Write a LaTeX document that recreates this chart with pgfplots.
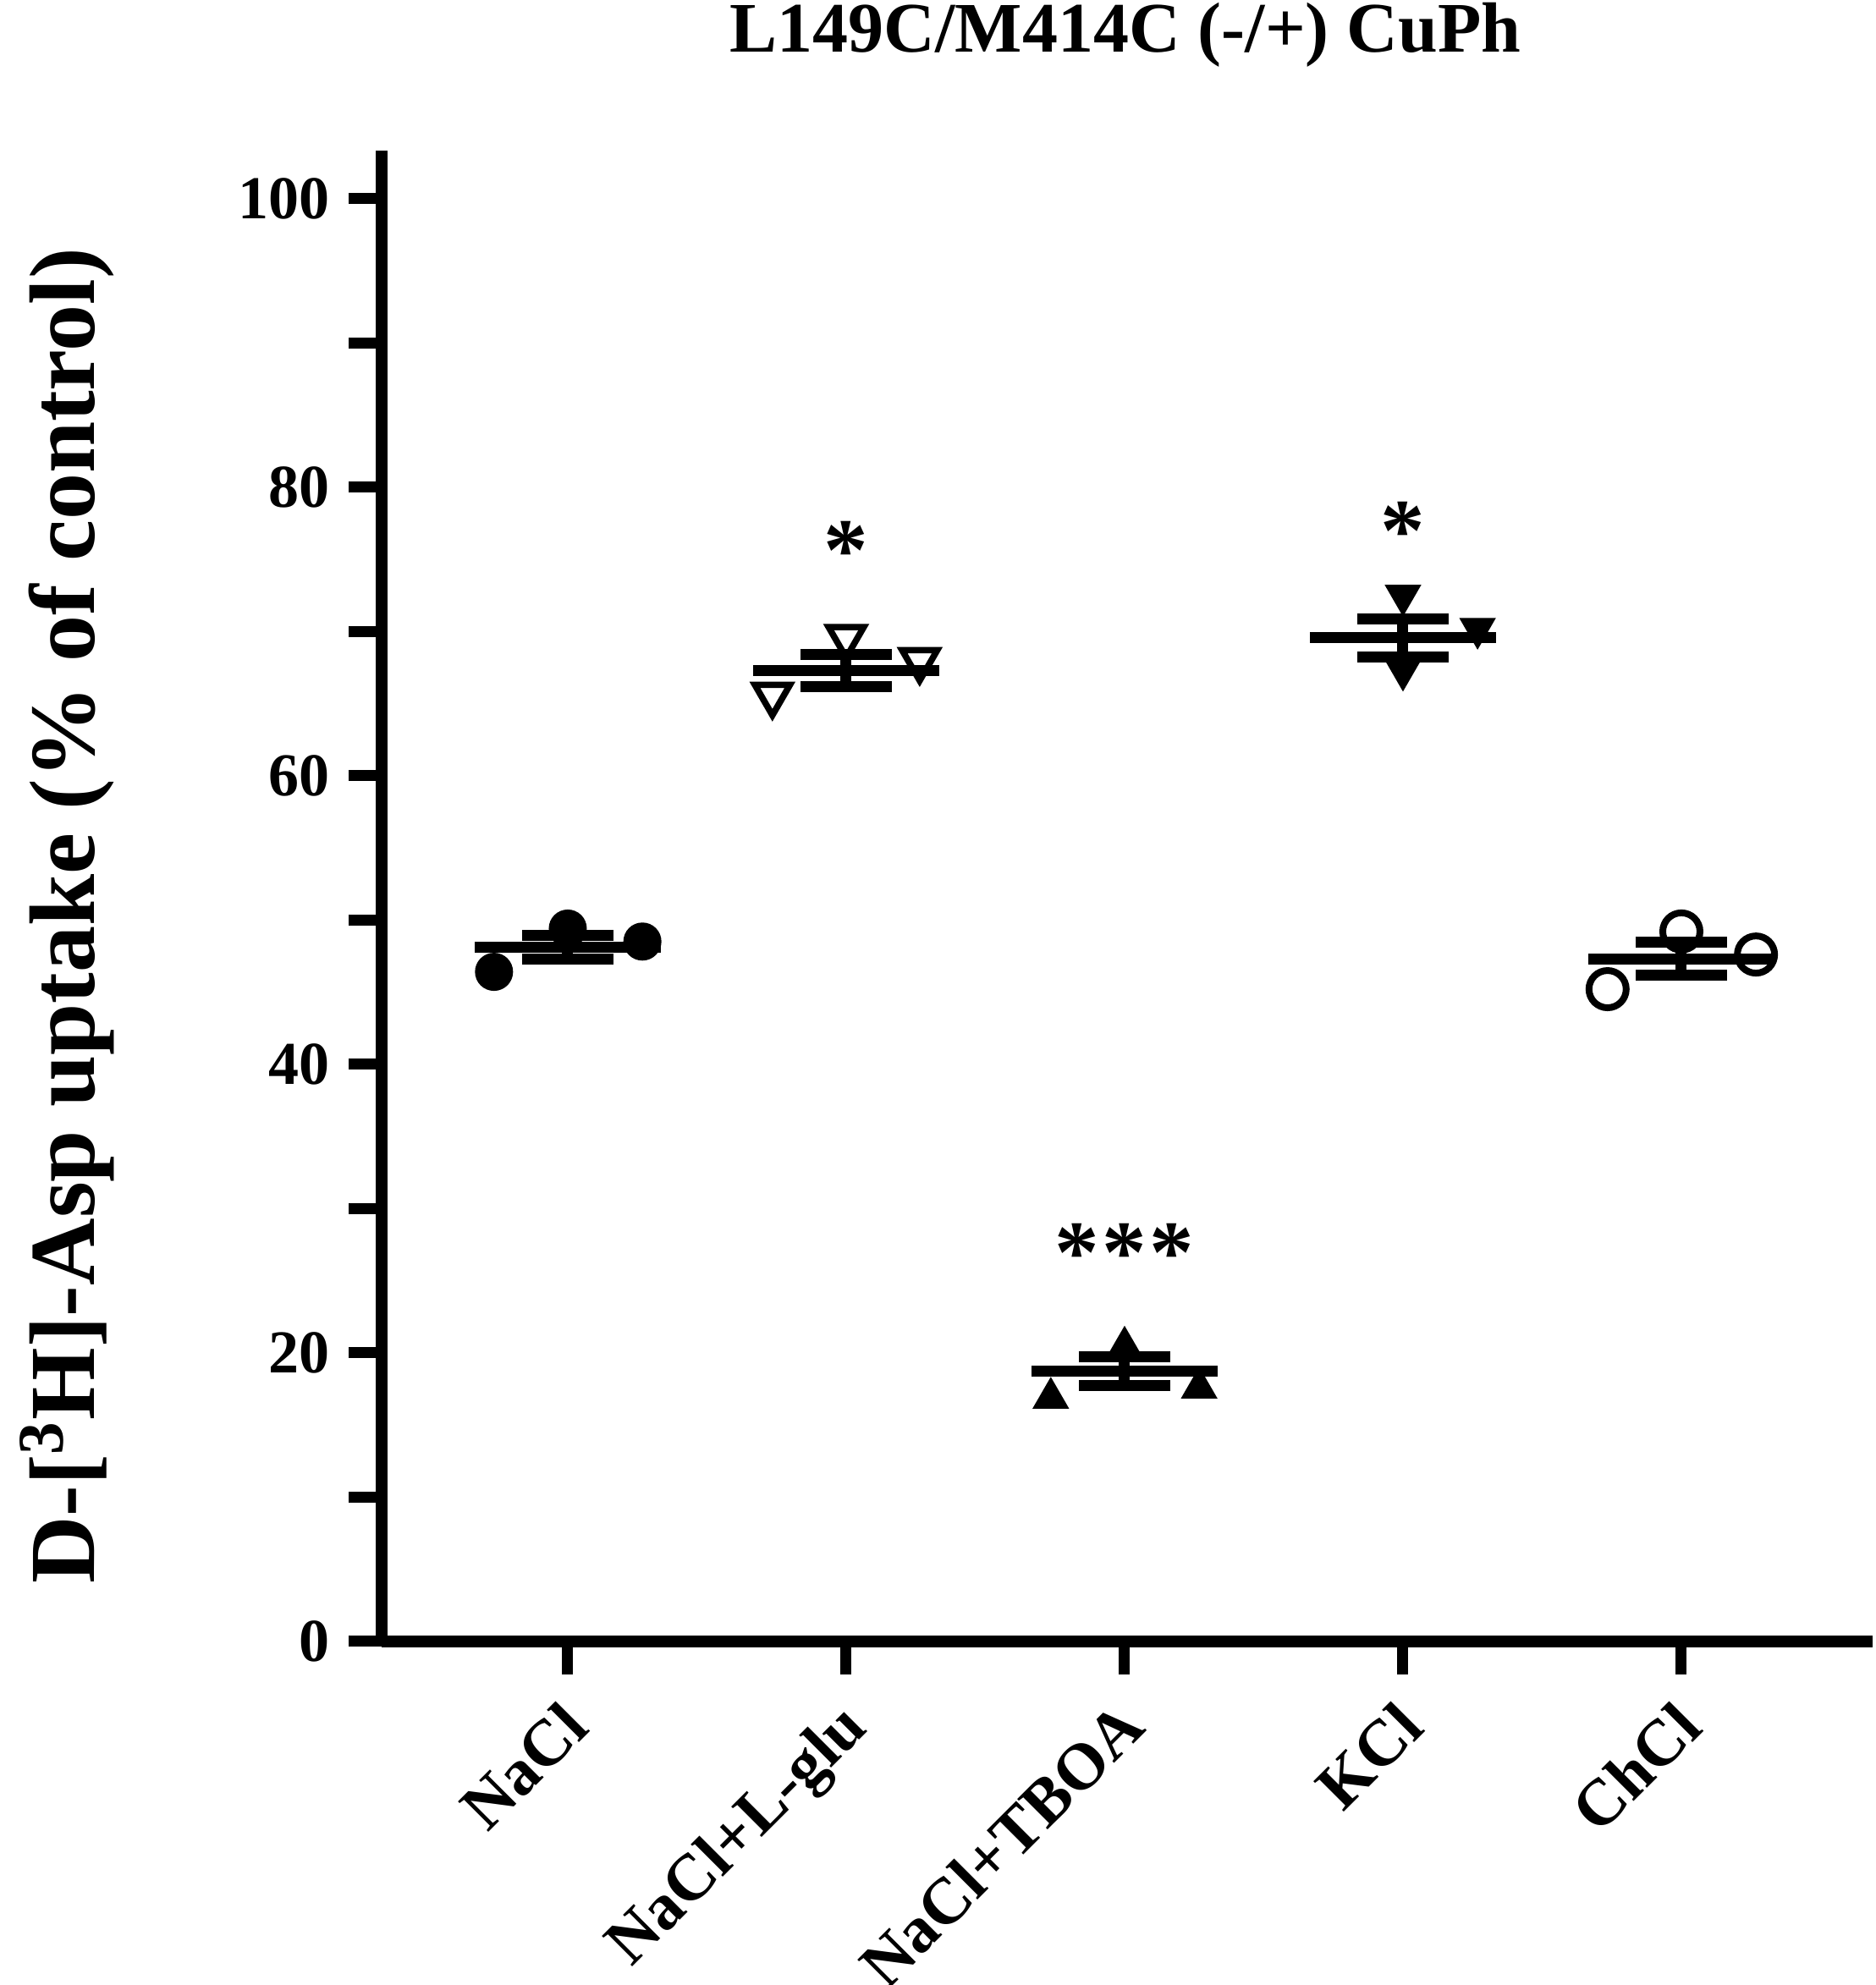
\documentclass[border=0pt]{standalone}
\usepackage{pgfplots}
\pgfplotsset{compat=1.18}
\usepackage{fontspec}
\setmainfont{Liberation Serif}
\begin{document}
\begin{tikzpicture}
\useasboundingbox (-90.2pt,-81.3pt) rectangle (353.2pt,387.9pt);
\begin{axis}[
  at={(0,0)}, anchor=south west,
  scale only axis, width=352.4pt, height=352.3pt,
  xmin=-0.6687, xmax=4.687, ymin=0, ymax=103.34,
  axis x line*=bottom, axis y line*=left,
  axis line style={line width=2.8pt, line cap=butt, black},
  tick align=outside, major tick length=7.8pt,
  every tick/.style={line width=2.6pt, black},
  xtick={0,1,2,3,4}, xticklabels={NaCl, NaCl+L-glu, NaCl+TBOA, KCl, ChCl},
  ytick={0,10,...,100}, yticklabels={0,,20,,40,,60,,80,,100},
  /pgf/number format/assume math mode=true,
  yticklabel style={font=\fontsize{14.4}{16}\selectfont\bfseries, xshift=-1pt},
  xticklabel style={font=\fontsize{15.5}{17}\selectfont\bfseries, rotate=45, anchor=north east, xshift=-2pt, yshift=1pt},
  clip=false,
]
% NaCl
\addplot[black, only marks, mark=*, mark size=4.3pt, mark options={line width=0.4pt, fill=black}] coordinates {(-0.265,46.4) (0,49.4) (0.268,48.5)};
% NaCl+L-glu
\addplot[black, only marks, mark=triangle, mark size=4.8pt, mark options={rotate=180, line width=1.5pt}] coordinates {(0.735,65.6) (1,69.6) (1.264,68.0)};
% NaCl+TBOA
\addplot[black, only marks, mark=triangle*, mark size=4.6pt, mark options={line width=0.4pt, fill=black}] coordinates {(1.735,16.85) (2,20.4) (2.268,17.55)};
% KCl
\addplot[black, only marks, mark=triangle*, mark size=4.6pt, mark options={rotate=180, line width=0.4pt, fill=black}] coordinates {(3,72.5) (3,67.3) (3.268,70.2)};
% ChCl
\addplot[black, only marks, mark=o, mark size=4.4pt, mark options={line width=1.6pt}] coordinates {(3.735,45.2) (4,49.2) (4.268,47.6)};
% mean +- SEM
\addplot[black, only marks, mark=-, mark size=22pt, mark options={line width=2.6pt},
  error bars/.cd, y dir=both, y explicit,
  error bar style={line width=2.6pt, black},
  error mark options={rotate=90, mark size=10.8pt, line width=2.6pt, black}]
  coordinates {
  (0,48.1) +- (0,0.8)
  (1,67.3) +- (0,1.1)
  (2,18.7) +- (0,1.0)
  (3,69.55) +- (0,1.3)
  (4,47.3) +- (0,1.15)
  };
\node[anchor=base, font=\fontsize{21}{24}\selectfont\bfseries] at (axis cs:1,73.54) {*};
\node[anchor=base, font=\fontsize{21}{24}\selectfont\bfseries] at (axis cs:3,74.9) {*};
\node[anchor=base, font=\fontsize{21}{24}\selectfont\bfseries] at (axis cs:2,24.9) {*\kern0.7pt*\kern0.7pt*};
\end{axis}
\node[anchor=base, font=\fontsize{16.8}{19}\selectfont\bfseries] at (175.8pt,375.5pt) {L149C/M414C (-/+) CuPh};
\node[anchor=base, rotate=90, font=\fontsize{22}{26}\selectfont\bfseries] at (-67.8pt,171.4pt) {D-[\textsuperscript{3}H]-Asp uptake (\% of control)};
\end{tikzpicture}
\end{document}
